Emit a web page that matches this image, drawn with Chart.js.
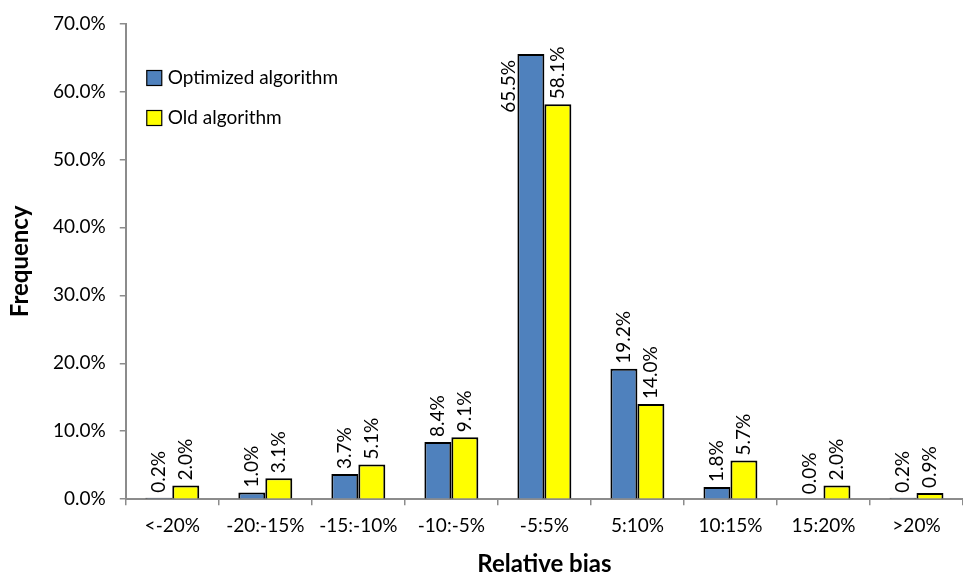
<!DOCTYPE html>
<html>
<head>
<meta charset="utf-8">
<script src="https://cdn.jsdelivr.net/npm/chart.js@4.4.1/dist/chart.umd.min.js"></script>
<style>
  html, body { margin: 0; padding: 0; background: #fff; }
  #wrap { width: 963px; height: 576px; position: relative; }
</style>
</head>
<body>
<div id="wrap"><canvas id="myChart"></canvas></div>
<script>
// data (percent)
const categories = ['<-20%', '-20:-15%', '-15:-10%', '-10:-5%', '-5:5%', '5:10%', '10:15%', '15:20%', '>20%'];
const optimized = [0.2, 1.0, 3.7, 8.4, 65.5, 19.2, 1.8, 0.0, 0.2];
const oldAlgo = [2.0, 3.1, 5.1, 9.1, 58.1, 14.0, 5.7, 2.0, 0.9];
const seriesNames = ['Optimized algorithm', 'Old algorithm'];

const FONT = 'Lato, "Open Sans", sans-serif';
const axisGray = '#8c8c8c';

// rotated value labels on top of each bar
const barLabels = {
  id: 'barLabels',
  afterDatasetsDraw(chart) {
    const ctx = chart.ctx;
    const top = chart.chartArea.top;
    ctx.save();
    ctx.font = '19px ' + FONT;
    ctx.fillStyle = '#000';
    ctx.textBaseline = 'middle';
    chart.data.datasets.forEach((ds, i) => {
      chart.getDatasetMeta(i).data.forEach((bar, j) => {
        const txt = ds.data[j].toFixed(1) + '%';
        const w = ctx.measureText(txt).width;
        ctx.save();
        if (bar.y - 4 - w < top) {
          // no room above: put it beside the bar, left side
          ctx.translate(bar.x - bar.width / 2 - 9, bar.y + 6);
          ctx.rotate(-Math.PI / 2);
          ctx.textAlign = 'right';
        } else {
          ctx.translate(bar.x, bar.y - 5);
          ctx.rotate(-Math.PI / 2);
          ctx.textAlign = 'left';
        }
        ctx.fillText(txt, 0, 0);
        ctx.restore();
      });
    });
    ctx.restore();
  }
};

// legend drawn inside the plot, top left
const insideLegend = {
  id: 'insideLegend',
  afterDraw(chart) {
    const ctx = chart.ctx;
    const x0 = chart.chartArea.left + 21;
    let y = chart.chartArea.top + 54;
    ctx.save();
    ctx.font = '19px ' + FONT;
    ctx.textBaseline = 'middle';
    chart.data.datasets.forEach(ds => {
      ctx.fillStyle = ds.backgroundColor;
      ctx.fillRect(x0, y - 7, 15, 15);
      ctx.strokeStyle = '#000';
      ctx.lineWidth = 1.2;
      ctx.strokeRect(x0, y - 7, 15, 15);
      ctx.fillStyle = '#000';
      ctx.fillText(ds.label, x0 + 21, y);
      y += 40;
    });
    ctx.restore();
  }
};

const data = {
  labels: categories,
  datasets: [
    {
      label: seriesNames[0],
      data: optimized,
      backgroundColor: '#4f81bd',
      borderColor: '#000',
      borderWidth: 2
    },
    {
      label: seriesNames[1],
      data: oldAlgo,
      backgroundColor: '#ffff00',
      borderColor: '#000',
      borderWidth: 2
    }
  ]
};

const config = {
  type: 'bar',
  data,
  options: {
    responsive: true,
    maintainAspectRatio: false,
    animation: false,
    datasets: {
      bar: { categoryPercentage: 0.58, barPercentage: 1.0 }
    },
    layout: { padding: { top: 0, right: 0, left: 8, bottom: 0 } },
    scales: {
      x: {
        grid: {
          display: true,
          drawOnChartArea: false,
          drawTicks: true,
          tickLength: 6,
          color: axisGray,
          lineWidth: 1.5
        },
        border: { color: axisGray, width: 2 },
        ticks: { color: '#000', font: { family: FONT, size: 19 }, padding: 9 },
        title: {
          display: true,
          text: 'Relative bias',
          color: '#000',
          font: { family: FONT, size: 24, weight: 'bold', lineHeight: 1.0 },
          padding: { top: 6, bottom: 0 }
        }
      },
      y: {
        min: 0,
        max: 70,
        grid: {
          display: true,
          drawOnChartArea: false,
          drawTicks: true,
          tickLength: 6,
          color: axisGray,
          lineWidth: 1.5
        },
        border: { color: axisGray, width: 2 },
        ticks: {
          stepSize: 10,
          color: '#000',
          padding: 14,
          font: { family: FONT, size: 19, lineHeight: 1.0 },
          callback: v => v.toFixed(1) + '%'
        },
        title: {
          display: true,
          text: 'Frequency',
          color: '#000',
          font: { family: FONT, size: 24, weight: 'bold', lineHeight: 1.0 },
          padding: { top: 0, bottom: 7 }
        }
      }
    },
    plugins: {
      legend: { display: false },
      tooltip: { enabled: false }
    }
  },
  plugins: [barLabels, insideLegend]
};

const myChart = new Chart(document.getElementById('myChart'), config);
</script>
</body>
</html>
